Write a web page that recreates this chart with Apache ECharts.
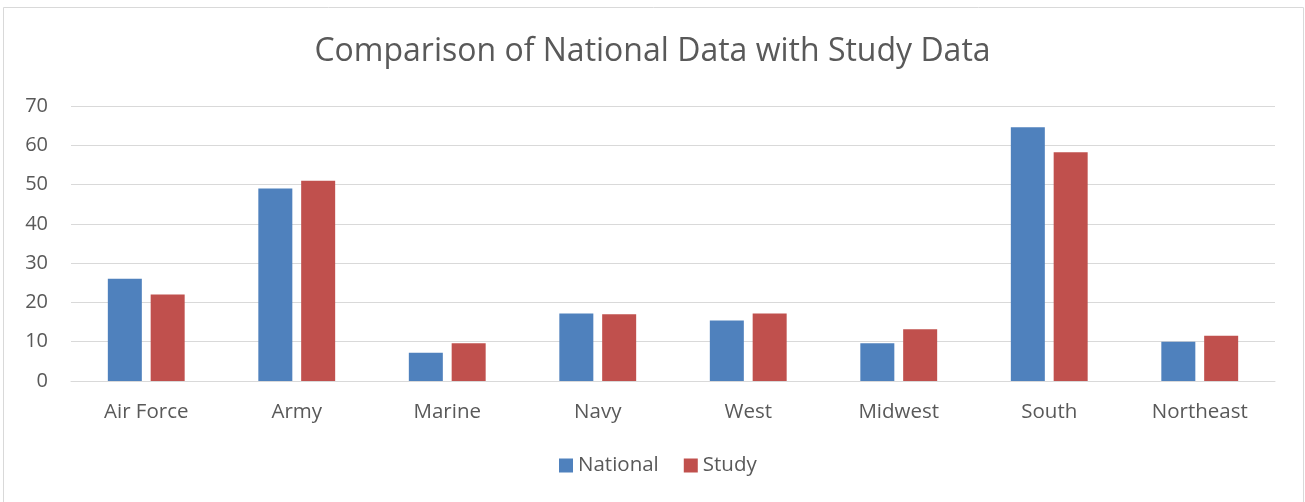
<!DOCTYPE html>
<html>
<head>
<meta charset="utf-8">
<script src="https://cdn.jsdelivr.net/npm/echarts@6/dist/echarts.min.js"></script>
<style>
  html, body { margin: 0; padding: 0; background: #fff; }
  #chart { width: 1305px; height: 502px; }
</style>
</head>
<body>
<div id="chart"></div>
<script>
// 数据
var categories = ['Air Force', 'Army', 'Marine', 'Navy', 'West', 'Midwest', 'South', 'Northeast'];
var nationalValues = [26, 49, 7.2, 17.2, 15.4, 9.6, 64.6, 10];
var studyValues = [22, 51, 9.6, 17, 17.2, 13.2, 58.2, 11.5];
var yTicks = [0, 10, 20, 30, 40, 50, 60, 70];

var textColor = '#595959';
var font = '"Open Sans", "Liberation Sans", sans-serif';

var myChart = echarts.init(document.getElementById('chart'), null, { renderer: 'canvas' });
myChart.setOption({
  animation: false,
  backgroundColor: '#fff',
  graphic: [{
    type: 'rect',
    shape: { x: 3.5, y: 7.5, width: 1300, height: 500 },
    style: { fill: 'none', stroke: '#d9d9d9', lineWidth: 1 }
  }],
  title: {
    text: 'Comparison of National Data with Study Data',
    left: 'center',
    top: 31,
    textStyle: { color: textColor, fontSize: 32, fontWeight: 'normal', fontFamily: font }
  },
  legend: {
    data: ['National', 'Study'],
    bottom: 21,
    left: 554,
    itemWidth: 14,
    itemHeight: 14,
    itemGap: 25,
    icon: 'rect',
    textStyle: { color: textColor, fontSize: 20.5, fontFamily: font }
  },
  grid: { left: 71, right: 30, top: 106, bottom: 121 },
  xAxis: {
    type: 'category',
    data: categories,
    axisLine: { lineStyle: { color: '#d9d9d9', width: 1 } },
    axisTick: { show: false },
    axisLabel: { color: textColor, fontSize: 20.5, fontFamily: font, margin: 21 }
  },
  yAxis: {
    type: 'value',
    min: yTicks[0],
    max: yTicks[yTicks.length - 1],
    interval: 10,
    axisLine: { show: false },
    axisTick: { show: false },
    splitLine: { lineStyle: { color: '#d9d9d9', width: 1 } },
    axisLabel: { color: textColor, fontSize: 20, fontFamily: font, margin: 23 }
  },
  series: [
    {
      name: 'National',
      type: 'bar',
      data: nationalValues,
      barWidth: 34,
      barGap: '26%',
      itemStyle: { color: '#4F81BD' }
    },
    {
      name: 'Study',
      type: 'bar',
      data: studyValues,
      barWidth: 34,
      itemStyle: { color: '#C0504D' }
    }
  ]
});
</script>
</body>
</html>
